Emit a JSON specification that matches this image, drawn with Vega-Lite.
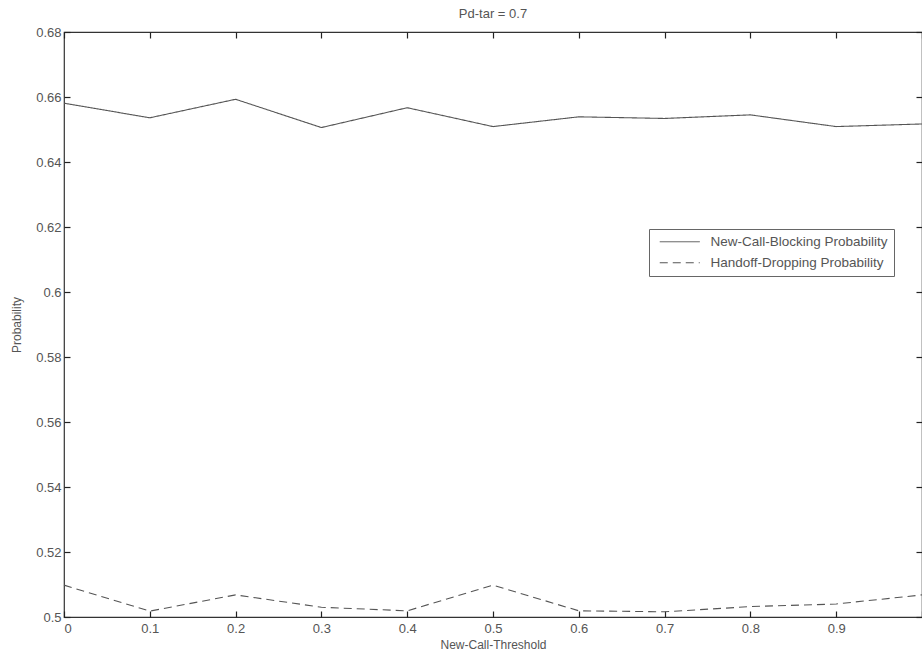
{
  "$schema": "https://vega.github.io/schema/vega-lite/v6.json",
  "autosize": {"type": "none"},
  "padding": {"left": 64, "top": 32, "right": 0, "bottom": 40},
  "width": 858,
  "height": 585,
  "background": "white",
  "title": {"text": "Pd-tar = 0.7", "fontSize": 13, "fontWeight": "normal", "font": "Liberation Sans", "color": "#555", "offset": 5},
  "config": {
    "view": {"stroke": "#333", "strokeWidth": 1.2},
    "axis": {"grid": false, "domain": false, "tickColor": "#222", "tickWidth": 1.2, "labelColor": "#555", "titleColor": "#555", "labelFont": "Liberation Sans", "titleFont": "Liberation Sans", "labelFontSize": 13, "titleFontSize": 12, "titleFontWeight": "normal", "tickSize": 6}
  },
  "data": {"values": [
    {"t": 0.0, "p": 0.6581, "s": "New-Call-Blocking Probability"},
    {"t": 0.1, "p": 0.6536, "s": "New-Call-Blocking Probability"},
    {"t": 0.2, "p": 0.6593, "s": "New-Call-Blocking Probability"},
    {"t": 0.3, "p": 0.6506, "s": "New-Call-Blocking Probability"},
    {"t": 0.4, "p": 0.6567, "s": "New-Call-Blocking Probability"},
    {"t": 0.5, "p": 0.6509, "s": "New-Call-Blocking Probability"},
    {"t": 0.6, "p": 0.6539, "s": "New-Call-Blocking Probability"},
    {"t": 0.7, "p": 0.6534, "s": "New-Call-Blocking Probability"},
    {"t": 0.8, "p": 0.6545, "s": "New-Call-Blocking Probability"},
    {"t": 0.9, "p": 0.6509, "s": "New-Call-Blocking Probability"},
    {"t": 1.0, "p": 0.6517, "s": "New-Call-Blocking Probability"},
    {"t": 0.0, "p": 0.5098, "s": "Handoff-Dropping Probability"},
    {"t": 0.1, "p": 0.5018, "s": "Handoff-Dropping Probability"},
    {"t": 0.2, "p": 0.5068, "s": "Handoff-Dropping Probability"},
    {"t": 0.3, "p": 0.5030, "s": "Handoff-Dropping Probability"},
    {"t": 0.4, "p": 0.5019, "s": "Handoff-Dropping Probability"},
    {"t": 0.5, "p": 0.5098, "s": "Handoff-Dropping Probability"},
    {"t": 0.6, "p": 0.5019, "s": "Handoff-Dropping Probability"},
    {"t": 0.7, "p": 0.5016, "s": "Handoff-Dropping Probability"},
    {"t": 0.8, "p": 0.5032, "s": "Handoff-Dropping Probability"},
    {"t": 0.9, "p": 0.5040, "s": "Handoff-Dropping Probability"},
    {"t": 1.0, "p": 0.5068, "s": "Handoff-Dropping Probability"}
  ]},
  "resolve": {"axis": {"x": "independent", "y": "independent"}},
  "layer": [
    {
      "mark": {"type": "line", "color": "#555", "strokeWidth": 1.1},
      "encoding": {
        "x": {"field": "t", "type": "quantitative", "scale": {"domain": [0, 1], "nice": false},
              "axis": {"orient": "bottom", "title": "New-Call-Threshold", "ticks": false, "values": [0,0.1,0.2,0.3,0.4,0.5,0.6,0.7,0.8,0.9,1], "labelExpr": "datum.value >= 1 ? '' : format(datum.value, '.1~f')", "labelPadding": 5, "titlePadding": 4}},
        "y": {"field": "p", "type": "quantitative", "scale": {"domain": [0.5, 0.68], "nice": false, "zero": false},
              "axis": {"orient": "left", "title": "Probability", "ticks": false, "values": [0.5,0.52,0.54,0.56,0.58,0.6,0.62,0.64,0.66,0.68], "format": ".2~f", "labelPadding": 3, "titlePadding": 12}},
        "strokeDash": {"field": "s", "type": "nominal",
          "scale": {"domain": ["New-Call-Blocking Probability", "Handoff-Dropping Probability"], "range": [[1, 0], [8, 5]]},
          "legend": {"orient": "none", "legendX": 585, "legendY": 197, "title": null, "symbolType": "M-4,0H4", "symbolSize": 100, "symbolStrokeColor": "#555", "symbolStrokeWidth": 1, "symbolOffset": 18, "labelOffset": 24, "labelFont": "Liberation Sans", "labelFontSize": 13.5, "labelColor": "#555", "strokeColor": "#666", "padding": 6, "rowPadding": 6, "fillColor": "white", "labelLimit": 300}}
      }
    },
    {
      "mark": {"type": "line", "opacity": 0},
      "encoding": {
        "x": {"field": "t", "type": "quantitative", "axis": {"orient": "bottom", "offset": -6, "title": null, "labels": false, "values": [0,0.1,0.2,0.3,0.4,0.5,0.6,0.7,0.8,0.9,1]}},
        "y": {"field": "p", "type": "quantitative", "axis": {"orient": "left", "offset": -6, "title": null, "labels": false, "values": [0.5,0.52,0.54,0.56,0.58,0.6,0.62,0.64,0.66,0.68]}},
        "detail": {"field": "s"}
      }
    },
    {
      "mark": {"type": "line", "opacity": 0},
      "encoding": {
        "x": {"field": "t", "type": "quantitative", "axis": {"orient": "top", "offset": -6, "title": null, "labels": false, "values": [0,0.1,0.2,0.3,0.4,0.5,0.6,0.7,0.8,0.9,1]}},
        "y": {"field": "p", "type": "quantitative", "axis": {"orient": "right", "offset": -6, "title": null, "labels": false, "values": [0.5,0.52,0.54,0.56,0.58,0.6,0.62,0.64,0.66,0.68]}},
        "detail": {"field": "s"}
      }
    }
  ]
}
